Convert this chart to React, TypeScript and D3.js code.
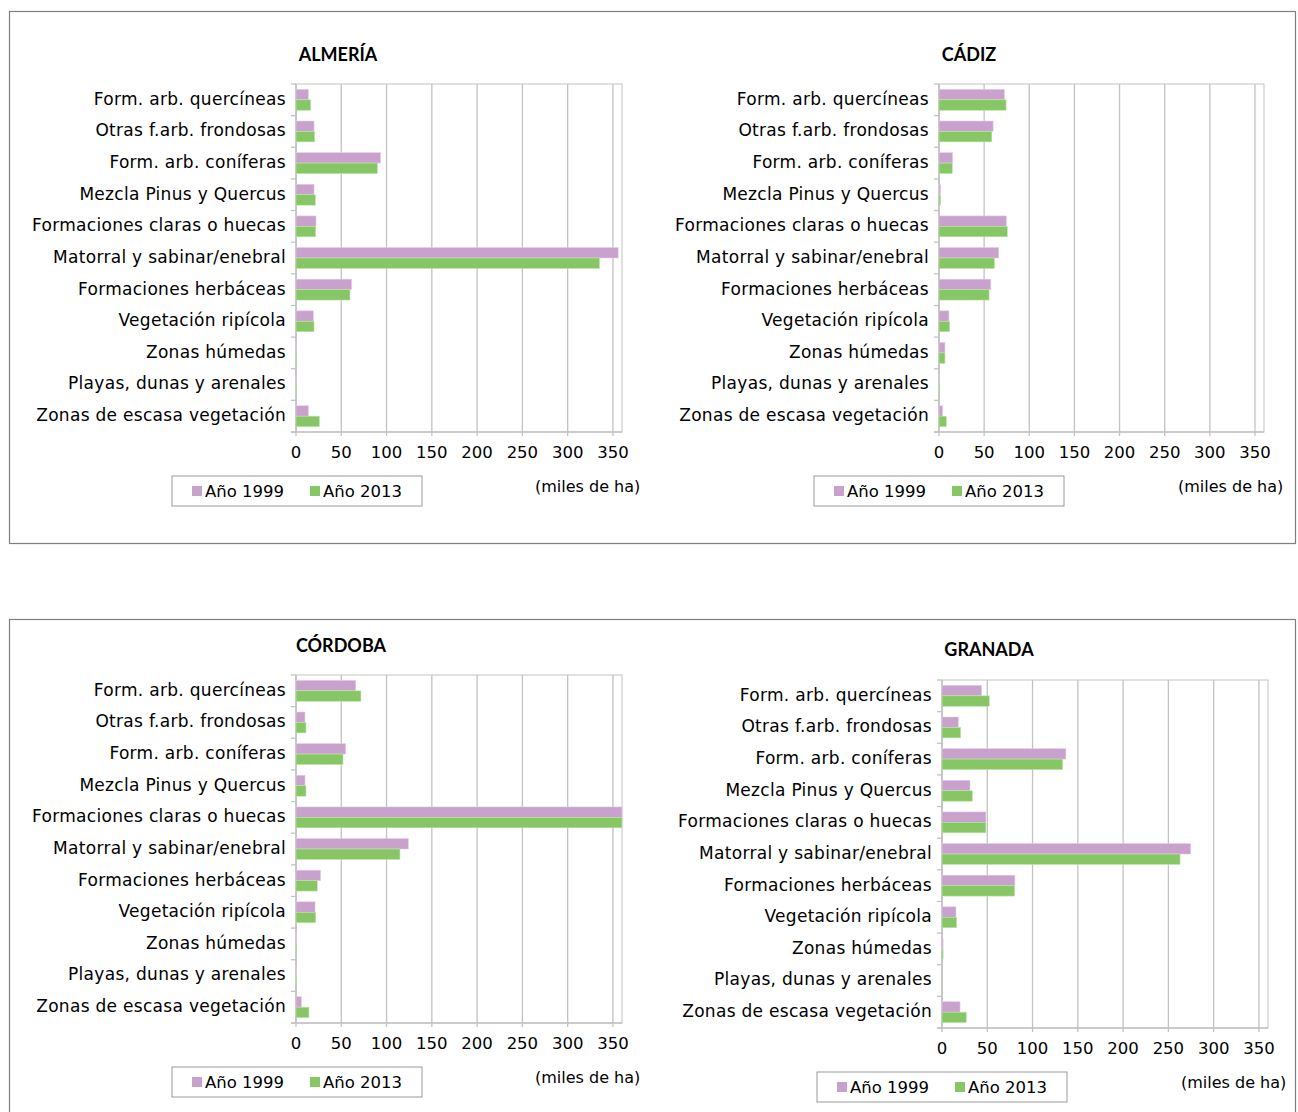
import React from "react";
import * as d3 from "d3";

const categories = [
  "Form. arb. quercíneas",
  "Otras f.arb. frondosas",
  "Form. arb. coníferas",
  "Mezcla Pinus y Quercus",
  "Formaciones claras o huecas",
  "Matorral y sabinar/enebral",
  "Formaciones herbáceas",
  "Vegetación ripícola",
  "Zonas húmedas",
  "Playas, dunas y arenales",
  "Zonas de escasa vegetación",
];

const ticks = [0, 50, 100, 150, 200, 250, 300, 350];
const seriesNames = ["Año 1999", "Año 2013"];

const almeria1999 = [13.6, 19.9, 93.4, 19.9, 22.1, 355.8, 61.4, 19.1, 0.5, 0.5, 13.6];
const almeria2013 = [16.2, 20.6, 89.8, 21.3, 21.7, 335.2, 59.6, 19.9, 0.5, 0.5, 25.8];
const cadiz1999 = [72.4, 59.9, 15.1, 1.8, 74.6, 66.2, 57.4, 11.0, 6.6, 0.7, 4.0];
const cadiz2013 = [74.3, 58.5, 14.7, 1.8, 75.7, 61.4, 55.5, 11.8, 6.6, 0.7, 8.1];
const cordoba1999 = [65.9, 9.9, 54.8, 9.9, 385, 124.0, 27.2, 21.0, 0.8, 0.8, 5.9];
const cordoba2013 = [71.7, 11.0, 51.9, 11.0, 380, 114.8, 23.5, 21.7, 0.8, 0.8, 14.3];
const granada1999 = [43.8, 18.0, 136.8, 30.9, 48.5, 274.6, 80.5, 15.4, 1.2, 0, 19.9];
const granada2013 = [52.2, 20.6, 133.1, 33.5, 48.5, 262.9, 80.1, 16.2, 1.2, 0, 26.8];

const PURPLE = "#C8A1CC";
const GREEN = "#87C665";
const GRID = "#c3c3c3";
const LABEL_FONT = "'DejaVu Sans', sans-serif";
const TITLE_FONT = "Lato, 'Open Sans', sans-serif";

type PanelProps = {
  title: string;
  titleX: number;
  titleY: number;
  x0: number;
  x1: number;
  y0: number;
  y1: number;
  v1: number[];
  v2: number[];
  legendX: number;
  legendY: number;
  milesX: number;
  milesY: number;
};

function Panel(p: PanelProps) {
  const x = d3.scaleLinear().domain([0, 360]).range([p.x0, p.x1]).clamp(true);
  const y = d3
    .scaleBand<string>()
    .domain(categories)
    .range([p.y0, p.y1])
    .paddingInner(0.34)
    .paddingOuter(0.17);
  const step = (p.y1 - p.y0) / categories.length;
  const bh = y.bandwidth() / 2;
  return (
    <g>
      <text
        x={p.titleX}
        y={p.titleY}
        textAnchor="middle"
        fontFamily={TITLE_FONT}
        fontWeight="bold"
        fontSize={18}
        fill="#000"
      >
        {p.title}
      </text>
      <rect x={p.x0} y={p.y0} width={p.x1 - p.x0} height={p.y1 - p.y0} fill="none" stroke={GRID} strokeWidth={1} />
      {ticks.map((t) => (
        <g key={t}>
          <line x1={x(t)} x2={x(t)} y1={p.y0} y2={p.y1 + 4} stroke={GRID} strokeWidth={1.3} />
          <text
            x={x(t)}
            y={p.y1 + 26}
            textAnchor="middle"
            fontFamily={LABEL_FONT}
            fontSize={16.5}
            fill="#000"
          >
            {t}
          </text>
        </g>
      ))}
      {d3.range(categories.length + 1).map((i) => (
        <line
          key={i}
          x1={p.x0 - 5}
          x2={p.x0}
          y1={p.y0 + i * step}
          y2={p.y0 + i * step}
          stroke={GRID}
          strokeWidth={1.3}
        />
      ))}
      <line x1={p.x0} x2={p.x0} y1={p.y0} y2={p.y1} stroke={GRID} strokeWidth={1.3} />
      <line x1={p.x0 - 5} x2={p.x1} y1={p.y1} y2={p.y1} stroke={GRID} strokeWidth={1.3} />
      {categories.map((c, i) => (
        <g key={c}>
          <rect
            x={x(0)}
            y={y(c)!}
            width={Math.max(0, x(p.v1[i]) - x(0))}
            height={bh}
            fill={PURPLE}
            stroke="#e3cde6"
            strokeWidth={0.6}
          />
          <rect
            x={x(0)}
            y={y(c)! + bh}
            width={Math.max(0, x(p.v2[i]) - x(0))}
            height={bh}
            fill={GREEN}
            stroke="#bfe3ab"
            strokeWidth={0.6}
          />
          <text
            x={p.x0 - 10}
            y={y(c)! + y.bandwidth() / 2 - 1}
            dy="0.35em"
            textAnchor="end"
            fontFamily={LABEL_FONT}
            fontSize={17}
            letterSpacing={0.3}
            fill="#000"
          >
            {c}
          </text>
        </g>
      ))}
      <rect x={p.legendX} y={p.legendY} width={250} height={30} fill="#fff" stroke="#9a9a9a" strokeWidth={1} />
      <rect x={p.legendX + 20} y={p.legendY + 10} width={10} height={10} fill={PURPLE} />
      <text x={p.legendX + 33} y={p.legendY + 15} dy="0.35em" fontFamily={LABEL_FONT} fontSize={16.5} fill="#000">
        {seriesNames[0]}
      </text>
      <rect x={p.legendX + 138} y={p.legendY + 10} width={10} height={10} fill={GREEN} />
      <text x={p.legendX + 151} y={p.legendY + 15} dy="0.35em" fontFamily={LABEL_FONT} fontSize={16.5} fill="#000">
        {seriesNames[1]}
      </text>
      <text x={p.milesX} y={p.milesY} dy="0.35em" fontFamily={LABEL_FONT} fontSize={16} fill="#000">
        (miles de ha)
      </text>
    </g>
  );
}

export default function App() {
  return (
    <svg
      width={1298}
      height={1112}
      style={{ position: "absolute", left: 0, top: 0, background: "#fff" }}
    >
      <rect x={9.5} y={11.5} width={1286} height={532} fill="none" stroke="#7f7f7f" strokeWidth={1.2} />
      <rect x={9.5} y={619.5} width={1286} height={600} fill="none" stroke="#7f7f7f" strokeWidth={1.2} />
      <Panel
        title="ALMERÍA"
        titleX={338}
        titleY={61}
        x0={296}
        x1={622}
        y0={84}
        y1={432}
        v1={almeria1999}
        v2={almeria2013}
        legendX={172}
        legendY={476}
        milesX={535}
        milesY={486}
      />
      <Panel
        title="CÁDIZ"
        titleX={969}
        titleY={61}
        x0={939}
        x1={1264}
        y0={84}
        y1={432}
        v1={cadiz1999}
        v2={cadiz2013}
        legendX={814}
        legendY={476}
        milesX={1178}
        milesY={486}
      />
      <Panel
        title="CÓRDOBA"
        titleX={341}
        titleY={652}
        x0={296}
        x1={622}
        y0={675}
        y1={1023}
        v1={cordoba1999}
        v2={cordoba2013}
        legendX={172}
        legendY={1067}
        milesX={535}
        milesY={1077}
      />
      <Panel
        title="GRANADA"
        titleX={989}
        titleY={656}
        x0={942}
        x1={1268}
        y0={680}
        y1={1028}
        v1={granada1999}
        v2={granada2013}
        legendX={817}
        legendY={1072}
        milesX={1181}
        milesY={1082}
      />
    </svg>
  );
}
